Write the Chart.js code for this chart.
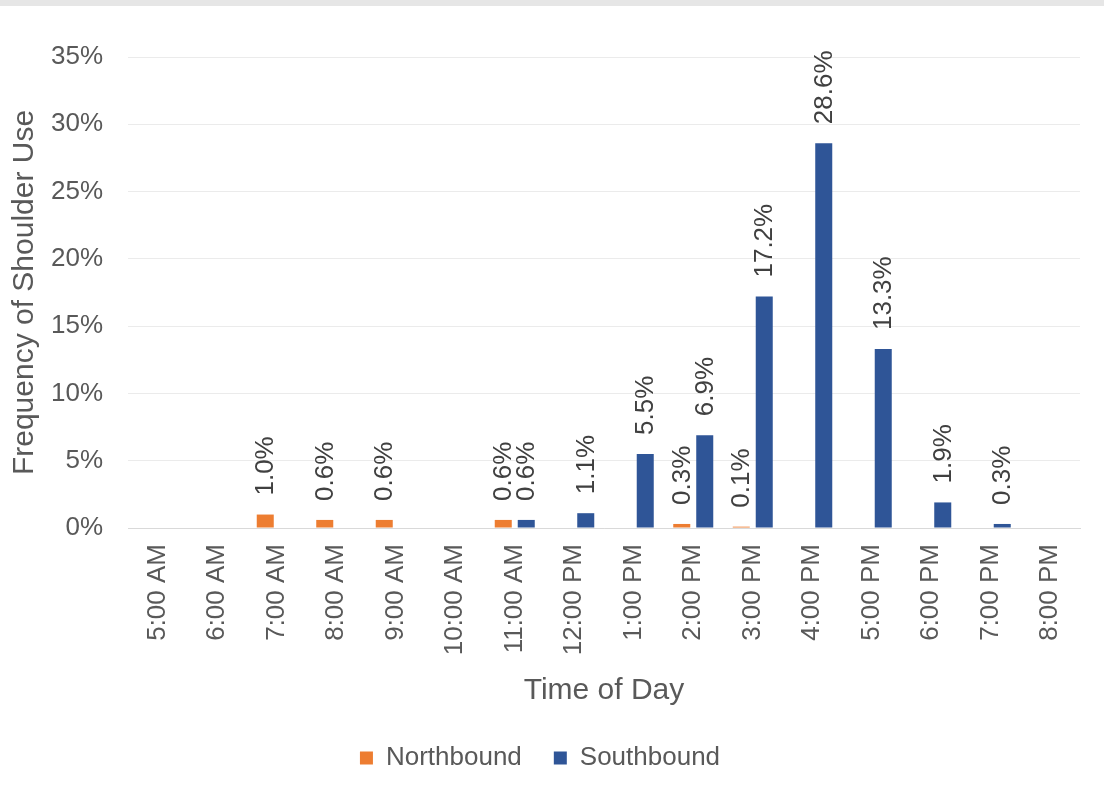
<!DOCTYPE html>
<html>
<head>
<meta charset="utf-8">
<script src="https://cdn.jsdelivr.net/npm/chart.js@4.4.1/dist/chart.umd.min.js"></script>
<style>
  html, body { margin: 0; padding: 0; background: #fff; }
  canvas { display: block; }
</style>
</head>
<body>
<canvas id="grafico" width="1104" height="793"></canvas>
<script>
const horas = ['5:00 AM', '6:00 AM', '7:00 AM', '8:00 AM', '9:00 AM', '10:00 AM', '11:00 AM', '12:00 PM',
  '1:00 PM', '2:00 PM', '3:00 PM', '4:00 PM', '5:00 PM', '6:00 PM', '7:00 PM', '8:00 PM'];
const northbound = [0, 0, 1.0, 0.6, 0.6, 0, 0.6, 0, 0, 0.3, 0.1, 0, 0, 0, 0, 0];
const southbound = [0, 0, 0, 0, 0, 0, 0.6, 1.1, 5.5, 6.9, 17.2, 28.6, 13.3, 1.9, 0.3, 0];
const ticksY = [0, 5, 10, 15, 20, 25, 30, 35];

const fuente = 'Liberation Sans, Arial, sans-serif';
const gris = '#595959';

// franja gris arriba
const franja = {
  id: 'franja',
  beforeDraw(chart) {
    const ctx = chart.ctx;
    ctx.save();
    ctx.fillStyle = '#e6e6e6';
    ctx.fillRect(0, 0, chart.width, 6);
    ctx.restore();
  }
};

// etiquetas verticales encima de las barras
const etiquetas = {
  id: 'etiquetas',
  afterDatasetsDraw(chart) {
    const ctx = chart.ctx;
    chart.data.datasets.forEach((ds, i) => {
      const meta = chart.getDatasetMeta(i);
      meta.data.forEach((bar, j) => {
        const v = ds.data[j];
        if (!v) return;
        ctx.save();
        ctx.translate(bar.x, bar.y - 19);
        ctx.rotate(-Math.PI / 2);
        ctx.font = '26px ' + fuente;
        ctx.fillStyle = '#404040';
        ctx.textAlign = 'left';
        ctx.textBaseline = 'middle';
        ctx.fillText(v.toFixed(1) + '%', 0, 1);
        ctx.restore();
      });
    });
  }
};

const ctx = document.getElementById('grafico').getContext('2d');
new Chart(ctx, {
  type: 'bar',
  data: {
    labels: horas,
    datasets: [
      { label: 'Northbound', data: northbound, backgroundColor: '#ED7D31' },
      { label: 'Southbound', data: southbound, backgroundColor: '#2F5597' }
    ]
  },
  options: {
    responsive: false,
    animation: false,
    devicePixelRatio: 1,
    categoryPercentage: 0.773,
    barPercentage: 0.74,
    layout: { padding: { top: 57, right: 24, bottom: 12, left: 0 } },
    plugins: {
      legend: {
        position: 'bottom',
        labels: {
          font: { family: fuente, size: 26 },
          color: gris,
          boxWidth: 13,
          boxHeight: 13,
          padding: 32
        }
      },
      tooltip: { enabled: false }
    },
    scales: {
      x: {
        grid: { display: false, drawTicks: false },
        border: { color: '#d9d9d9', width: 1 },
        ticks: {
          font: { family: fuente, size: 26 },
          color: gris,
          minRotation: 90,
          maxRotation: 90,
          padding: 16,
          autoSkip: false
        },
        title: {
          display: true,
          text: 'Time of Day',
          font: { family: fuente, size: 30 },
          color: gris,
          padding: { top: 4, bottom: 4 }
        },
        afterFit(scale) { scale.height = 185; }
      },
      y: {
        min: 0,
        max: 35,
        afterBuildTicks(scale) { scale.ticks = ticksY.map(v => ({ value: v })); },
        grid: { color: '#ebebeb', lineWidth: 1, drawTicks: false },
        border: { display: false },
        ticks: {
          font: { family: fuente, size: 26 },
          color: gris,
          padding: 25,
          callback: v => v + '%'
        },
        title: {
          display: true,
          text: 'Frequency of Shoulder Use',
          font: { family: fuente, size: 30 },
          color: gris,
          padding: { top: 7, bottom: 4 }
        },
        afterFit(scale) { scale.width = 128; }
      }
    }
  },
  plugins: [franja, etiquetas]
});
</script>
</body>
</html>
